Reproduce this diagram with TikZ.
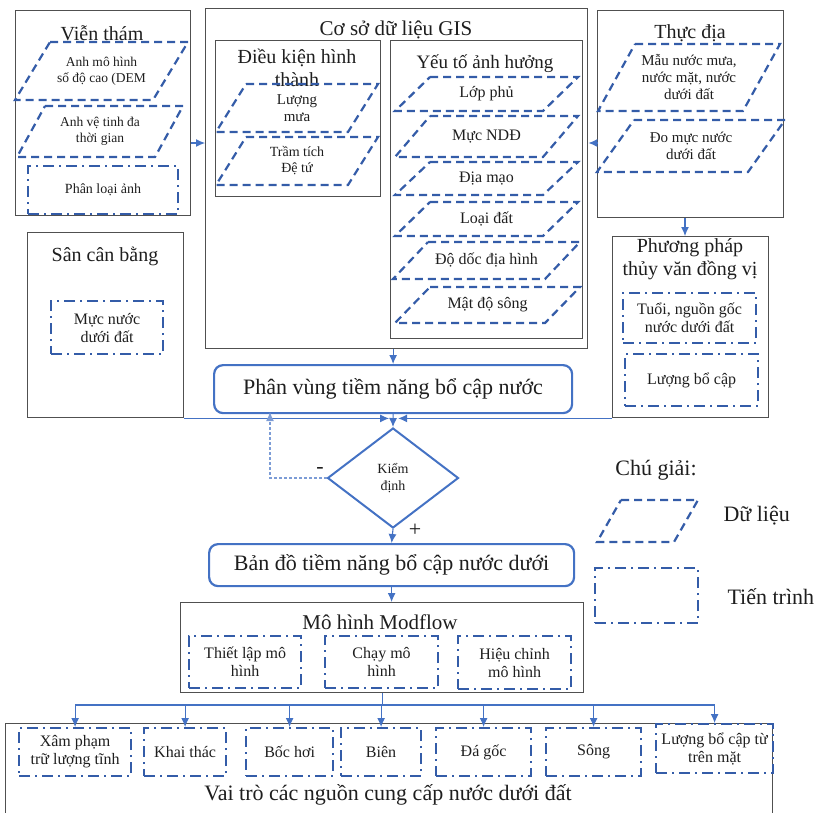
\documentclass[tikz,border=0pt]{standalone}
\usepackage{fontspec}
\setmainfont{Liberation Serif}
\usetikzlibrary{arrows.meta,shapes.geometric}

\definecolor{xanh}{RGB}{52,92,168}
\definecolor{xanhmui}{RGB}{68,114,196}
\definecolor{vien}{RGB}{80,80,80}
\definecolor{chu}{RGB}{30,30,30}

\newcommand{\co}[2]{\fontsize{#1}{#2}\selectfont}

\tikzset{
	khung/.style={draw=vien, line width=1.4pt, inner sep=0pt, anchor=north west},
	dulieu/.style={draw=xanh, line width=2.2pt, dash pattern=on 8pt off 5pt},
	tientrinh/.style={draw=xanh, line width=2.2pt, dash pattern=on 11pt off 5pt on 2pt off 5pt,
		inner sep=0pt, anchor=north west, align=center, text=chu, font=\co{16}{18}},
	ketqua/.style={draw=xanhmui, line width=2.2pt, rounded corners=9pt, inner sep=0pt,
		anchor=north west, text=chu, font=\co{22}{24}},
	tieude/.style={text=chu, font=\co{20}{23}, align=center, inner sep=0pt},
	chunho/.style={text=chu, font=\co{15}{17}, align=center, inner sep=0pt},
	mui/.style={draw=xanhmui, line width=1.1pt, -{Latex[length=9pt,width=8pt]}},
	duong/.style={draw=xanhmui, line width=1.1pt},
}

% hinh binh hanh du lieu: [tuy chon]{ten}{x trai duoi}{y tren}{x phai tren}{y duoi}{do nghieng}{chu}
\newcommand{\hinhbh}[8][]{%
	\draw[dulieu] ({#3+#7},#4) -- (#5,#4) -- ({#5-#7},#6) -- (#3,#6) -- cycle;
	\node[chunho,#1] (#2) at ({(#3+#5)/2},{(#4+#6)/2}) {#8};
}

\begin{document}
\begin{tikzpicture}[x=1pt, y=-1pt]
	\useasboundingbox (0,0) rectangle (824,812);
	
	% --- Vien tham ---
	\node[khung, minimum width=175, minimum height=205] (vt) at (15,10) {};
	\node[tieude] (vtt) at (102,33) {Viễn thám};
	\hinhbh[font=\co{13.5}{16}]{dem}{15}{42}{188}{100}{35}{Anh mô hình\\số độ cao (DEM}
	\hinhbh[font=\co{13.5}{16}]{vetinh}{17}{106}{183}{157}{28}{Anh vệ tinh đa\\thời gian}
	\node[tientrinh, minimum width=150, minimum height=48, font=\co{14}{16}] (planh) at (27,165) {Phân loại ảnh};
	
	% --- Co so du lieu GIS ---
	\node[khung, minimum width=382, minimum height=340] (gis) at (205,8) {};
	\node[tieude, font=\co{21}{23}] (gist) at (396,30) {Cơ sở dữ liệu GIS};
	\node[khung, minimum width=165, minimum height=156] (dk) at (215,40) {};
	\node[tieude] (dkt) at (297,68) {Điều kiện hình\\thành};
	\hinhbh{luongmua}{216}{84}{378}{132}{30}{Lượng\\mưa}
	\hinhbh[font=\co{14}{16}]{tramtich}{216}{137}{378}{185}{30}{Trầm tích\\Đệ tứ}
	\node[khung, minimum width=192, minimum height=298] (yt) at (390,40) {};
	\node[tieude, font=\co{19}{21}] (ytt) at (485,64) {Yếu tố ảnh hưởng};
	\hinhbh[font=\co{16}{18}]{lopphu}{395}{77}{578}{111}{35}{Lớp phủ}
	\hinhbh[font=\co{16}{18}]{mucndd}{395}{116}{578}{157}{35}{Mực NDĐ}
	\hinhbh[font=\co{16}{18}]{diamao}{395}{162}{578}{195}{35}{Địa mạo}
	\hinhbh[font=\co{16}{18}]{loaidat}{395}{202}{578}{236}{35}{Loại đất}
	\hinhbh[font=\co{16}{18}]{dodoc}{393}{242}{580}{279}{35}{Độ dốc địa hình}
	\hinhbh[font=\co{16}{18}]{matdo}{395}{287}{580}{323}{35}{Mật độ sông}
	
	% --- Thuc dia ---
	\node[khung, minimum width=186, minimum height=207] (td) at (597,10) {};
	\node[tieude] (tdt) at (690,33) {Thực địa};
	\hinhbh{maunuoc}{598}{44}{780}{111}{37}{Mẫu nước mưa,\\nước mặt, nước\\dưới đất}
	\hinhbh{domuc}{597}{120}{785}{172}{37}{Đo mực nước\\dưới đất}
	
	% --- Phuong phap thuy van dong vi ---
	\node[khung, minimum width=156, minimum height=181] (pp) at (612,236) {};
	\node[tieude] (ppt) at (690,259) {Phương pháp\\thủy văn đồng vị};
	\node[tientrinh, minimum width=133, minimum height=50] (tuoi) at (622,292) {Tuổi, nguồn gốc\\nước dưới đất};
	\node[tientrinh, minimum width=133, minimum height=52] (luongbc) at (624,353) {Lượng bổ cập};
	
	% --- San can bang ---
	\node[khung, minimum width=156, minimum height=185] (scb) at (27,232) {};
	\node[tieude] (scbt) at (105,256) {Sân cân bằng};
	\node[tientrinh, minimum width=112, minimum height=53] (mucnuoc) at (50,300) {Mực nước\\dưới đất};
	
	% --- Phan vung, kiem dinh, ban do ---
	\node[ketqua, minimum width=358, minimum height=48] (pv) at (213,364) {Phân vùng tiềm năng bổ cập nước};
	\node[draw=xanhmui, line width=2pt, diamond, aspect=1.31, minimum width=131pt, minimum height=100pt,
		chunho, font=\co{14}{17}] (kd) at (393,478) {Kiểm\\định};
	\node[ketqua, minimum width=365, minimum height=42] (bd) at (208,543) {Bản đồ tiềm năng bổ cập nước dưới};
	\node[text=chu, font=\co{22}{24}] (tru) at (320,470) {-};
	\node[text=chu, font=\co{22}{24}] (cong) at (415,530) {+};
	
	% --- Mo hinh Modflow ---
	\node[khung, minimum width=403, minimum height=90] (mf) at (180,602) {};
	\node[tieude, font=\co{21}{23}] (mft) at (380,622) {Mô hình Modflow};
	\node[tientrinh, minimum width=112, minimum height=52] (thietlap) at (188,635) {Thiết lập mô\\hình};
	\node[tientrinh, minimum width=113, minimum height=52] (chay) at (324,635) {Chạy mô\\hình};
	\node[tientrinh, minimum width=113, minimum height=53] (hieuchinh) at (457,635) {Hiệu chỉnh\\mô hình};
	
	% --- Vai tro cac nguon ---
	\node[khung, minimum width=767, minimum height=100] (vtr) at (5,723) {};
	\node[text=chu, font=\co{22}{24}] (vtrt) at (388,795) {Vai trò các nguồn cung cấp nước dưới đất};
	\node[tientrinh, minimum width=112, minimum height=48] (xam) at (18,727) {Xâm phạm\\trữ lượng tĩnh};
	\node[tientrinh, minimum width=82, minimum height=48] (khai) at (143,727) {Khai thác};
	\node[tientrinh, minimum width=87, minimum height=48] (boc) at (245,727) {Bốc hơi};
	\node[tientrinh, minimum width=80, minimum height=48] (bien) at (340,727) {Biên};
	\node[tientrinh, minimum width=95, minimum height=48] (dagoc) at (435,727) {Đá gốc};
	\node[tientrinh, minimum width=95, minimum height=48] (song) at (545,727) {Sông};
	\node[tientrinh, minimum width=117, minimum height=49] (tumat) at (655,723) {Lượng bổ cập từ\\trên mặt};
	
	% --- Chu giai ---
	\node[text=chu, font=\co{22}{24}] (cg) at (656,470) {Chú giải:};
	\hinhbh{cgdl}{597}{500}{698}{542}{24}{}
	\node[text=chu, font=\co{22}{24}, anchor=west] (cgdlt) at (720,516) {Dữ liệu};
	\node[tientrinh, minimum width=103, minimum height=55] (cgtt) at (594,567) {};
	\node[text=chu, font=\co{22}{24}, anchor=west] (cgttt) at (724,597) {Tiến trình};
	
	% --- Mui ten ---
	\coordinate (h1) at (0,143);
	\draw[mui] (vt.east |- h1) -- (gis.west |- h1);
	\draw[mui] (td.west |- h1) -- (gis.east |- h1);
	\draw[mui] (td.south -| 685,0) -- (pp.north -| 685,0);
	\draw[mui] (gis.south -| pv.north) -- (pv.north);
	\draw[mui] (scb.south east) -- ([xshift=-4pt]pv.south |- scb.south);
	\draw[mui] (pp.south west) -- ([xshift=5pt]pv.south |- pp.south);
	\draw[mui] (pv.south) -- (kd.north);
	\coordinate (ph) at (270,412);
	\draw[mui, draw=xanhmui!70, dash pattern=on 3pt off 2pt] (kd.west) -| (ph);
	\draw[mui] (kd.south) -- (bd.north);
	\draw[mui] (bd.south) -- (bd.south |- mf.north);
	
	% nhanh xuong cac nguon
	\coordinate (bus) at (0,705);
	\draw[duong] (mf.south) -- (mf.south |- bus);
	\draw[duong] (xam.north |- bus) -- (tumat.north |- bus);
	\foreach \o in {xam,khai,boc,bien,dagoc,song,tumat}
	\draw[mui] (\o.north |- bus) -- (\o.north);
\end{tikzpicture}
\end{document}
